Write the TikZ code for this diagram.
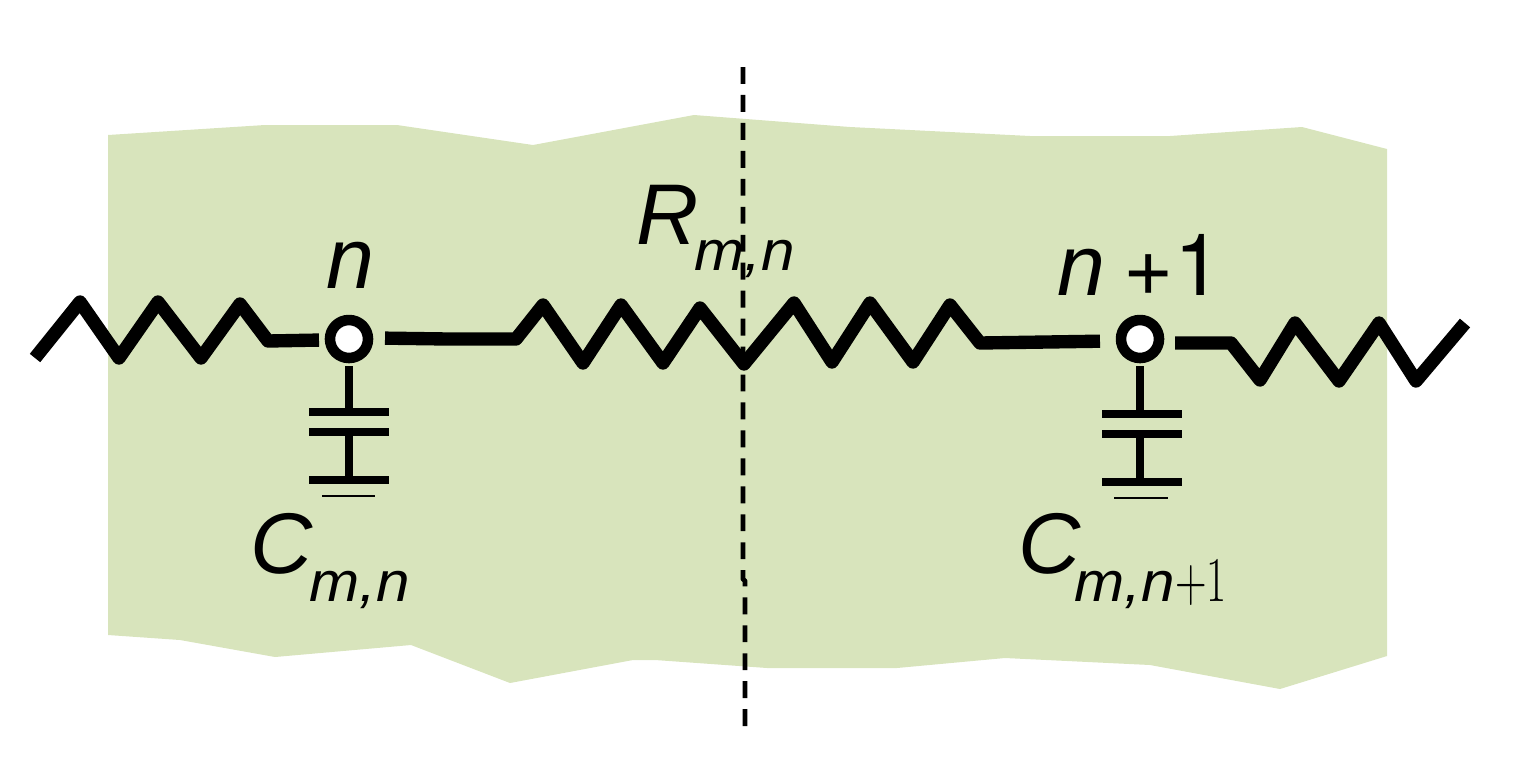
\documentclass[tikz,border=0pt]{standalone}
\usepackage{fontspec}
\setmainfont{Liberation Sans}
\newfontfamily\plusfont{TeX Gyre Heros}
\usetikzlibrary{positioning}
\definecolor{sheetgreen}{RGB}{216,228,188}
\tikzset{every picture/.style={x=0.01cm,y=-0.01cm,line join=round},
wire/.style={line width=3.8pt},
lead/.style={line width=2pt},
plate/.style={line width=2pt},
thinplate/.style={line width=0.7pt},
probe/.style={draw,circle,line width=3pt,fill=white,minimum size=0.38cm,inner sep=0pt,outer sep=0.08cm},
bigtext/.style={font=\fontsize{24.5}{26}\selectfont\itshape,inner sep=0pt},
subtext/.style={font=\fontsize{16}{19}\selectfont\itshape\addfontfeature{FakeStretch=1.07},inner sep=0pt}}
\begin{document}
\begin{tikzpicture}
\useasboundingbox (0,0) rectangle (1515,775);
\fill [sheetgreen] (108,135) -- (265,125) -- (397,125) -- (533,145) -- (694,115) -- (850,127) -- (1030,136) -- (1170,136) -- (1302,127) -- (1387,149) -- (1387,656) -- (1280,689) -- (1150,665) -- (1005,658) -- (897,668) -- (767,668) -- (655,660) -- (633,660) -- (510,683) -- (411,645) -- (275,657) -- (180,640) -- (108,635) -- cycle;
% nodes
\node (n1) [probe] at (349,339) {};
\node (n2) [probe] at (1140,339) {};
\coordinate (top) at (743,67);
\coordinate (kinka) at (743,579);
\coordinate (kinkb) at (745,581);
\coordinate (bot) at (745,728);
\coordinate (leftend) at (35,358);
\coordinate (rightend) at (1465,323);
% dashed cut
\draw [line width=1.4pt,dash pattern=on 4.8pt off 3.15pt] (top) -- (kinka) -- (kinkb) -- (bot);
% resistors
\draw [wire,shorten >=0.03cm] (leftend) -- (80,302) -- (119,358) -- (158,302) -- (201,358) -- (240,304) -- (268,341) -- ([yshift=-0.01cm]n1.west);
\draw [wire,shorten <=0.09cm,shorten >=0.13cm] ([yshift=0.01cm]n1.east) -- (448,339) -- (516,339) -- (543,305) -- (583,363) -- (621,305) -- (663,363) -- (700,308) -- (744,364) -- (794,303) -- (832,362) -- (870,303) -- (913,362) -- (950,305) -- (980,343) -- ([yshift=-0.02cm]n2.west);
\draw [wire,shorten <=0.08cm] ([yshift=-0.04cm]n2.east) -- (1231,343) -- (1260,380) -- (1295,323) -- (1339,381) -- (1379,323) -- (1416,381) -- (rightend);
% capacitors
\coordinate (c1) at (349,412);
\coordinate (c2) at (349,432);
\coordinate (g1) at (349,480);
\coordinate (d1) at (1140,414);
\coordinate (d2) at (1140,434);
\coordinate (g2) at (1140,482);
\draw [lead] (n1) -- (c1);
\draw [lead] (c2) -- (g1);
\draw [plate] (309,412) -- (389,412);
\draw [plate] (309,432) -- (389,432);
\draw [plate] (309,480) -- (389,480);
\draw [thinplate] (322,496) -- (375,496);
\draw [lead] (n2) -- (d1);
\draw [lead] (d2) -- (g2);
\draw [plate] (1102,414) -- (1182,414);
\draw [plate] (1102,434) -- (1182,434);
\draw [plate] (1102,482) -- (1182,482);
\draw [thinplate] (1114,498) -- (1168,498);
% labels
\node (ln) [bigtext,anchor=base] at (350,288) {n};
\node (lr) [bigtext,anchor=base west] at (636,244) {R};
\node (lrs) [subtext,anchor=base west] at (694,270) {m,n};
\node (ln1) [bigtext,anchor=base west] at (1057,295) {n};
\node (lp) [anchor=base west,inner sep=0pt,font=\fontsize{24.5}{26}\selectfont\plusfont] at (1123,295) {+1};
\node (lc) [bigtext,anchor=base west] at (250,573) {C};
\node (lcs) [subtext,anchor=base west] at (309,601) {m,n};
\node (lc2) [bigtext,anchor=base west] at (1018,573) {C};
\node (lcs2) [subtext,anchor=base west] at (1074,601) {m,n\scalebox{0.72}[1.05]{$+1$}};
\end{tikzpicture}
\end{document}
